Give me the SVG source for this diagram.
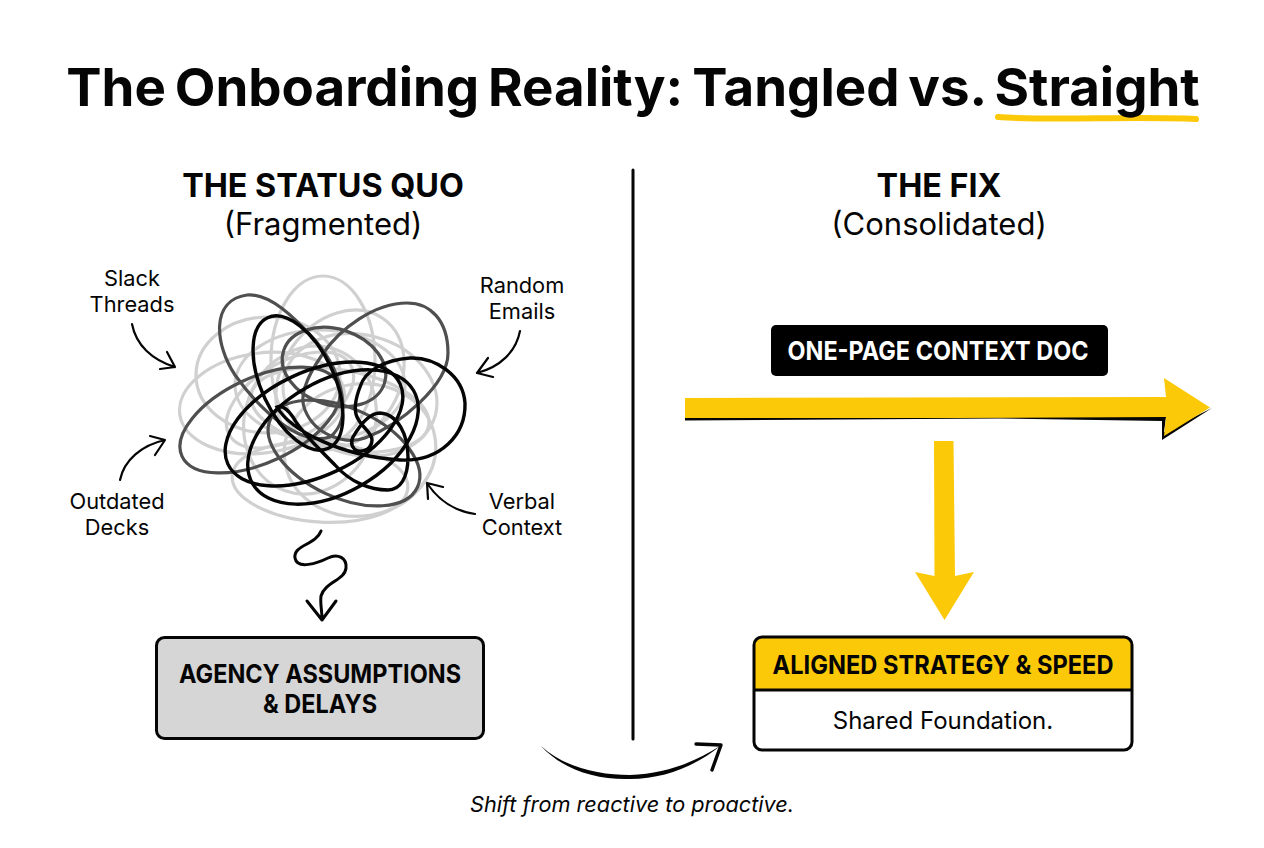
<svg xmlns="http://www.w3.org/2000/svg" width="1264" height="848" viewBox="0 0 1264 848">
<style>
text{font-family:Inter,"Liberation Sans",sans-serif;fill:#050505;text-anchor:middle}
.h{font-weight:700;font-size:32.300px}
.s{font-size:31px}
.l{font-size:21.800px}
.b{font-weight:700;font-size:26px}
.lg{fill:none;stroke:#d0d0d0;stroke-width:3.2}
.dg{fill:none;stroke:#4f4f4f;stroke-width:3.2}
.bk{fill:none;stroke:#050505;stroke-width:3.4}
.c{fill:none;stroke:#050505;stroke-width:2.2;stroke-linecap:round;stroke-linejoin:round}
</style>
<rect width="1264" height="848" fill="#fff"/>
<g id="title">
<path d="M998 117C1050 121 1130 116 1196 119" fill="none" stroke="#fcc908" stroke-width="6" stroke-linecap="round"/>
<text x="633" y="106" font-weight="700" font-size="52.800" word-spacing="-3.600">The Onboarding Reality: Tangled vs. Straight</text>
</g>
<g id="status-quo-heading"><text class="h" x="323" y="197">THE STATUS QUO</text><text class="s" x="323" y="235">(Fragmented)</text></g>
<g id="fix-heading"><text class="h" x="939" y="197">THE FIX</text><text class="s" x="939" y="235">(Consolidated)</text></g>
<g id="tangle">
<ellipse class="lg" cx="323" cy="360" rx="52" ry="84"/>
<ellipse class="lg" cx="262" cy="403" rx="83" ry="50" transform="rotate(-8 262 403)"/>
<ellipse class="lg" cx="268" cy="375" rx="72" ry="58"/>
<ellipse class="lg" cx="320" cy="482" rx="88" ry="40" transform="rotate(4 320 482)"/>
<ellipse class="lg" cx="360" cy="450" rx="76" ry="66" transform="rotate(-10 360 450)"/>
<ellipse class="lg" cx="360" cy="395" rx="78" ry="60" transform="rotate(15 360 395)"/>
<ellipse class="lg" cx="320" cy="385" rx="85" ry="55"/>
<ellipse class="lg" cx="310" cy="420" rx="65" ry="75" transform="rotate(20 310 420)"/>
<ellipse class="lg" cx="340" cy="410" rx="90" ry="40" transform="rotate(10 340 410)"/>
<ellipse class="lg" cx="290" cy="400" rx="70" ry="38" transform="rotate(-30 290 400)"/>
<ellipse class="lg" cx="340" cy="380" rx="58" ry="75" transform="rotate(35 340 380)"/>
<path class="dg" d="M247 295C270 293 295 318 315 340C345 375 352 420 330 437C300 447 260 410 235 375C215 345 210 300 247 295Z"/>
<path class="dg" d="M407 303C375 303 340 328 322 355C308 375 298 395 305 410C315 435 345 445 365 438C400 425 448 385 448 353C448 320 430 303 407 303Z"/>
<ellipse class="dg" cx="260" cy="420" rx="86" ry="42.500" transform="rotate(-25 260 420)"/>
<ellipse class="dg" cx="334" cy="367" rx="53" ry="38" transform="rotate(18 334 367)"/>
<ellipse class="dg" cx="344" cy="453" rx="81" ry="44.500" transform="rotate(25 344 453)"/>
<ellipse class="bk" cx="298" cy="383" rx="72" ry="36.500" transform="rotate(65 298 383)"/>
<ellipse class="bk" cx="314" cy="424" rx="95" ry="52" transform="rotate(-25 314 424)"/>
<ellipse class="bk" cx="333" cy="437" rx="93" ry="56" transform="rotate(-30 333 437)"/>
<path class="bk" d="M277 407C290 430 340 456 400 460C440 462 466 435 465 403C463 375 435 357 410 358C385 360 365 370 360 387C355 400 354 410 357 417C362 428 372 432 372 440C372 448 365 452 358 451C352 449 350 443 353 437C360 425 370 413 380 413C398 414 408 435 408 457C408 478 400 490 388 490C370 490 350 482 335 465C318 448 300 430 293 417C288 410 282 405 277 407Z"/>
</g>
<g id="label-slack"><text class="l" x="132" y="286">Slack</text><text class="l" x="132" y="312">Threads</text></g>
<g id="label-random"><text class="l" x="522" y="293">Random</text><text class="l" x="522" y="319">Emails</text></g>
<g id="label-outdated"><text class="l" x="117" y="509">Outdated</text><text class="l" x="117" y="535">Decks</text></g>
<g id="label-verbal"><text class="l" x="522" y="509">Verbal</text><text class="l" x="522" y="535">Context</text></g>
<g id="connectors">
<path class="c" d="M132 324C136 345 152 360 175 367M167 352L175 367L160 369"/>
<path class="c" d="M520 331C516 352 500 367 477 373M488 358L477 373L493 377"/>
<path class="c" d="M120 480C124 460 142 445 165 440M150 436L165 440L155 455"/>
<path class="c" d="M475 514C455 511 438 500 427 483M443 487L427 483L428 499"/>
<path d="M321 531C316 545 293 545 295 558C297 570 318 563 328 558C338 553 347 558 346 568C345 580 325 582 321 596C320 604 322 610 322 619M307 601L322 620L336 601" fill="none" stroke="#050505" stroke-width="3" stroke-linecap="round" stroke-linejoin="round"/>
<line x1="633" y1="170" x2="633" y2="739" stroke="#050505" stroke-width="3" stroke-linecap="round"/>
<path d="M541 746C565 768 600 775 630 775C665 774 695 762 720 746C697 765 665 779 630 779C595 780 562 769 541 746Z" fill="#050505"/>
<path d="M696 744L721 745L712 770" fill="none" stroke="#050505" stroke-width="3.400" stroke-linecap="round" stroke-linejoin="round"/>
<path d="M685 417V420.500L1000 418.500L1162 421L1162 440L1212 408L1164 432L1166 417Z" fill="#050505"/>
<path d="M685 398L1166 397L1164 378L1210 407.500L1164 436L1166 417L950 418L685 418Z" fill="#fcc908"/>
<path d="M934 441H953.500L955 576L974 572L944.500 620L915 572L934.500 576Z" fill="#fcc908"/>
</g>
<g id="context-doc"><rect x="771" y="325" width="337" height="51" rx="5" fill="#000"/><text x="938" y="360" class="b" style="fill:#fff" textLength="301" lengthAdjust="spacingAndGlyphs">ONE-PAGE CONTEXT DOC</text></g>
<g id="assumptions"><rect x="156.500" y="637.500" width="327" height="101" rx="8" fill="#d6d6d6" stroke="#050505" stroke-width="3"/><text x="320" y="683" class="b" textLength="282" lengthAdjust="spacingAndGlyphs">AGENCY ASSUMPTIONS</text><text x="320" y="713" class="b" textLength="114" lengthAdjust="spacingAndGlyphs">&amp; DELAYS</text></g>
<g id="aligned">
<rect x="754" y="637" width="378" height="113" rx="8" fill="#fff"/>
<path d="M754 690V645a8 8 0 0 1 8-8H1124a8 8 0 0 1 8 8V690Z" fill="#fcc908"/>
<rect x="754" y="637" width="378" height="113" rx="8" fill="none" stroke="#050505" stroke-width="3"/>
<line x1="754" y1="690" x2="1132" y2="690" stroke="#050505" stroke-width="3"/>
<text x="943" y="674" class="b" textLength="341" lengthAdjust="spacingAndGlyphs">ALIGNED STRATEGY &amp; SPEED</text>
<text x="943" y="729" font-size="24">Shared Foundation.</text>
</g>
<g id="caption"><text x="632" y="812" font-size="21.700" font-style="italic">Shift from reactive to proactive.</text></g>
</svg>
